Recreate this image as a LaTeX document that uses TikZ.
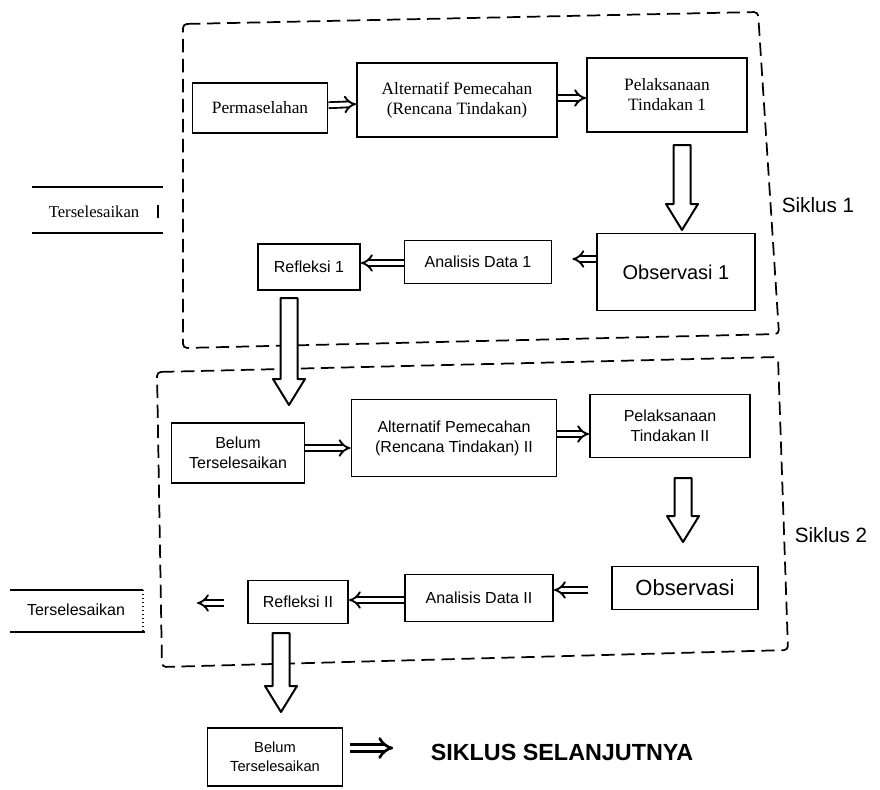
\documentclass[tikz,border=0pt]{standalone}
\usepackage{fontspec}
\setmainfont{Liberation Serif}
\setsansfont{Liberation Sans}
\usetikzlibrary{arrows.meta}
\newcommand\fatarrow[3]{% x, top y, tip y (picture units)
  \draw[fat] ({#1-8.5},#2) -- ({#1-8.5},{#3-26}) -- ({#1-16},{#3-26}) -- (#1,#3)
    -- ({#1+16},{#3-26}) -- ({#1+8.5},{#3-26}) -- ({#1+8.5},#2) -- cycle;}
\begin{document}
\begin{tikzpicture}[x=0.75pt,y=-0.75pt,
  box/.style={draw, line width=1.4pt, align=center, inner sep=0pt},
  serbox/.style={box, font=\fontsize{13}{15}\selectfont},
  sanbox/.style={box, font=\sffamily\fontsize{12}{15}\selectfont},
  dashbox/.style={line width=1.3pt, dash pattern=on 10pt off 5pt, rounded corners=3pt},
  dbl/.style={double, double distance=3pt, line width=1.4pt, -{Implies}},
  heavydbl/.style={double, double distance=3.4pt, line width=2pt, -{Implies}},
  fat/.style={draw, fill=white, line width=1.5pt, line join=round},
  lbl/.style={font=\sffamily\fontsize{15.5}{18}\selectfont, inner sep=0pt},
  side/.style={line width=1pt}
]
\useasboundingbox (0,0) rectangle (880,789);

% cycle frames
\draw[dashbox] (183,24) -- (758,12) -- (779,334) -- (183,348) -- cycle;
\draw[dashbox] (157,372) -- (778,357) -- (788,650) -- (162,667) -- cycle;

% cycle 1
\node[serbox, minimum width=101.25pt, minimum height=37.5pt] (P1) at (260,108) {Permaselahan};
\node[serbox, minimum width=150pt, minimum height=55.5pt] (A1) at (457,100) {Alternatif Pemecahan\\(Rencana Tindakan)};
\node[serbox, minimum width=120pt, minimum height=55.5pt] (T1) at (667,95) {Pelaksanaan\\Tindakan 1};
\node[box, font=\sffamily\fontsize{15}{18}\selectfont, minimum width=118.5pt, minimum height=57.75pt] (O1) at (676,272) {Observasi 1};
\node[sanbox, minimum width=110.25pt, minimum height=32.25pt] (D1) at (478,262) {Analisis Data 1};
\node[sanbox, minimum width=76.5pt, minimum height=34.5pt] (R1) at (309,267) {Refleksi 1};

\node[font=\fontsize{12.5}{15}\selectfont, inner sep=0pt] (S1) at (94,212) {Terselesaikan};
\draw[side] (32,187) -- (163,187);
\draw[side] (32,233) -- (163,233);
\draw[side] (158,205) -- (158,218);

\node[lbl] (L1) at (818,205) {Siklus 1};

\draw[dbl] (P1) -- (A1);
\draw[dbl] (A1.east |- 0,98) -- (T1.west |- 0,98);
\fatarrow{682}{145}{230}
\draw[dbl, shorten >=15pt] (O1.west |- 0,259) -- (D1.east |- 0,259);
\draw[dbl] (D1.west |- 0,263) -- (R1.east |- 0,263);

% cycle 2
\node[sanbox, minimum width=99.75pt, minimum height=45pt] (B2) at (238,453) {Belum\\Terselesaikan};
\node[sanbox, minimum width=153.75pt, minimum height=57.75pt] (A2) at (454,438) {Alternatif Pemecahan\\(Rencana Tindakan) II};
\node[sanbox, minimum width=120pt, minimum height=47.25pt] (T2) at (670,426) {Pelaksanaan\\Tindakan II};
\node[box, font=\sffamily\fontsize{16.5}{18}\selectfont, minimum width=109.5pt, minimum height=32.25pt] (O2) at (685,588) {Observasi};
\node[sanbox, minimum width=111pt, minimum height=35.25pt] (D2) at (479,598) {Analisis Data II};
\node[sanbox, minimum width=75pt, minimum height=32.25pt] (R2) at (298,602) {Refleksi II};

\node[font=\sffamily\fontsize{12}{15}\selectfont, inner sep=0pt] (S2) at (76,610) {Terselesaikan};
\draw[side] (10,590) -- (143,590);
\draw[side] (10,632) -- (145,632);
\draw[side, dotted] (143,590) -- (143,632);
\coordinate (E2) at (197,603);

\node[lbl] (L2) at (831,535) {Siklus 2};

\draw[dbl] (B2.east |- 0,448) -- (A2.west |- 0,448);
\draw[dbl] (A2.east |- 0,434) -- (T2.west |- 0,434);
\fatarrow{683}{478}{542}
\draw[dbl, shorten <=17pt] (O2.west |- 0,590) -- (D2.east |- 0,590);
\draw[dbl] (D2.west |- 0,600) -- (R2.east |- 0,600);
\draw[dbl, shorten <=17pt] (R2.west |- 0,603) -- (E2);

% between cycles and below
\fatarrow{289}{298}{405}
\fatarrow{281}{633}{712}

\node[sanbox, font=\sffamily\fontsize{11}{14}\selectfont, minimum width=101.25pt, minimum height=43.5pt] (B3) at (275,757) {Belum\\Terselesaikan};
\node[font=\sffamily\bfseries\fontsize{17.5}{20}\selectfont, inner sep=0pt] (N) at (562,752) {SIKLUS SELANJUTNYA};
\draw[heavydbl, shorten <=5pt, shorten >=28pt] (B3.east |- 0,748) -- (N.west |- 0,748);
\end{tikzpicture}
\end{document}
